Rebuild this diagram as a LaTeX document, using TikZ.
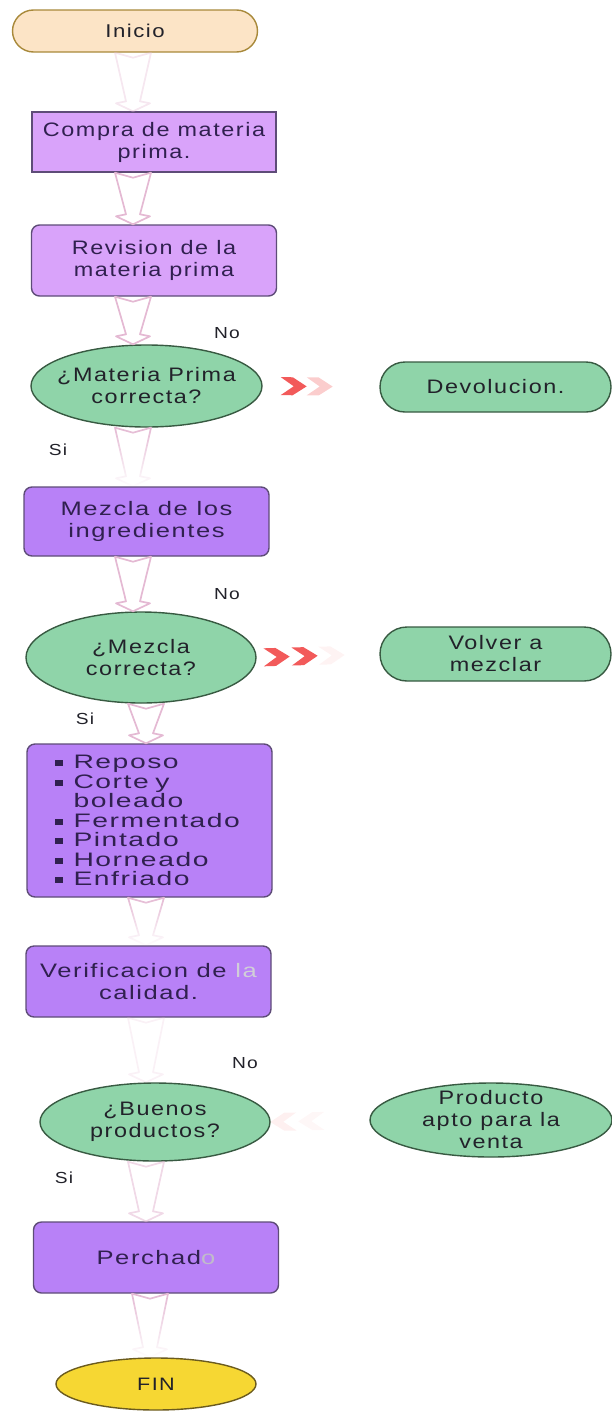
\documentclass[tikz,border=0pt]{standalone}
\usepackage{fontspec}
\setmainfont{Liberation Sans}[FakeStretch=1.2, LetterSpace=8]
\newfontfamily\widefont{Liberation Sans}[FakeStretch=1.31, LetterSpace=8]
\newfontfamily\listfont{Liberation Sans}[FakeStretch=1.45, LetterSpace=8]
\usetikzlibrary{shapes.geometric, shapes.misc, calc, decorations.markings, fadings}

\definecolor{peach}{HTML}{FCE4C6}
\definecolor{peachline}{HTML}{A8893A}
\definecolor{lilac}{HTML}{D9A3FA}
\definecolor{violetbox}{HTML}{B881F7}
\definecolor{boxline}{HTML}{5E4C78}
\definecolor{mint}{HTML}{8FD4A9}
\definecolor{mintline}{HTML}{385A42}
\definecolor{sun}{HTML}{F6D733}
\definecolor{sunline}{HTML}{6B5B1E}
\definecolor{flow}{HTML}{E4B9D3}
\definecolor{chev}{HTML}{F25A5A}
\definecolor{ink}{HTML}{22222A}
\definecolor{inkv}{HTML}{30204F}

\tikzfading[name=fade down, top color=transparent!0, bottom color=transparent!100]
\tikzfading[name=fade quick, top color=transparent!0, middle color=transparent!92, bottom color=transparent!100]

% thick red chevron, pointing along the local x axis
\newcommand\chevronmark[1]{\fill[#1] (0pt,-9pt) -- (12pt,-9pt) -- (26pt,0pt) -- (12pt,9pt) -- (0pt,9pt) -- (13pt,0pt) -- cycle;}
% small square bullet for the process list
\newcommand\lbul{\raisebox{2.5pt}{\rule{8pt}{6pt}}\hspace{11pt}}

\begin{document}
\begin{tikzpicture}[x=1pt, y=-1pt,
  txt/.style={inner sep=0pt, align=center, font=\fontsize{19.5}{22}\selectfont, text=ink},
  base/.style={inner sep=0pt, align=center, font=\fontsize{19.5}{22}\selectfont, line width=1.4pt},
  terminal/.style={base, rounded rectangle, text=ink},
  procbox/.style={base, rectangle, rounded corners=8pt, draw=boxline, fill=violetbox, text=inkv,
    minimum width=245, minimum height=71, font=\widefont\fontsize{19.5}{22}\selectfont},
  lightbox/.style={procbox, fill=lilac, font=\fontsize{19.5}{22}\selectfont},
  decision/.style={base, ellipse, draw=mintline, fill=mint},
  outcome/.style={terminal, draw=mintline, fill=mint, minimum width=231},
  branch/.style={inner sep=0pt, font=\fontsize{16}{18}\selectfont, text=ink},
  flowarrow/.style={draw=flow, line width=1.7pt, line join=round,
    to path={let \p1=(\tikztostart), \p2=(\tikztotarget) in
      (\x1-18pt,\y1) -- (\x1,\y1-5pt) -- (\x1+18pt,\y1) -- (\x1+7pt,\y2+10pt)
      -- (\x1+17pt,\y2+8pt) -- (\x1,\y2) -- (\x1-17pt,\y2+8pt) -- (\x1-7pt,\y2+10pt) -- cycle}},
]
\useasboundingbox (0,0) rectangle (612,1411);

% ---------- nodes ----------
\node[terminal, draw=peachline, fill=peach, minimum width=245, minimum height=42,
  font=\fontsize{18.5}{22}\selectfont] (ini) at (135,31) {Inicio};
\node[lightbox, rounded corners=0pt, minimum width=244, minimum height=60] (compra) at (154,142) {Compra de materia\\prima.};
\node[lightbox] (rev) at (154,260.5) {Revision de la\\materia prima};

\node[decision, minimum width=231, minimum height=82,
  label={[txt]center:{¿Materia Prima\\correcta?}}] (d1) at (146.5,386) {};
\node[outcome, minimum height=50] (dev) at (495.5,387) {Devolucion.};

\node[procbox, minimum height=69] (mez) at (146.5,521.5) {Mezcla de los\\ingredientes};

\node[decision, minimum width=230, minimum height=91,
  label={[txt]center:{¿Mezcla\\correcta?}}] (d2) at (141,657.5) {};
\node[outcome, minimum height=54] (vol) at (495.5,654) {Volver a\\mezclar};

\node[procbox, minimum height=153, align=left, text width=190,
  font=\listfont\fontsize{19.5}{19.5}\selectfont] (list) at (149.5,820.5)
  {\lbul Reposo\\\lbul Corte y\\\hphantom{\lbul}boleado\\\lbul Fermentado\\\lbul Pintado\\\lbul Horneado\\\lbul Enfriado};

\node[procbox] (ver) at (148.5,981.5) {Verificacion de \textcolor{inkv!22}{la}\\calidad.};

\node[decision, minimum width=230, minimum height=78,
  label={[txt]center:{¿Buenos\\productos?}}] (d3) at (155,1122) {};
\node[decision, minimum width=242, minimum height=74,
  label={[txt]center:{Producto\\apto para la\\venta}}] (prod) at (491,1120) {};

\node[procbox] (per) at (156,1257.5) {Perchad\textcolor{inkv!30}{o}};

\node[base, ellipse, draw=sunline, fill=sun, text=ink, minimum width=200, minimum height=52,
  font=\fontsize{18}{20}\selectfont] (fin) at (156,1384) {FIN};

% ---------- branch labels ----------
\node[branch] (no1) at (227,333) {No};
\node[branch] (si1) at (58,450) {Si};
\node[branch] (no2) at (227,594) {No};
\node[branch] (si2) at (85,719) {Si};
\node[branch] (no3) at (245,1063) {No};
\node[branch] (si3) at (64,1178) {Si};

% ---------- vertical flow arrows ----------
\coordinate (colA) at (133,0);
\coordinate (colB) at (146,0);
\coordinate (colC) at (150,0);

\draw[flowarrow, opacity=0.35] (ini.south -| colA) to (compra.north -| colA);
\draw[flowarrow] (compra.south -| colA) to (rev.north -| colA);
\draw[flowarrow] (rev.south -| colA) to (d1.north -| colA);
\draw[flowarrow, path fading=fade quick] (d1.south -| colA) to (mez.north -| colA);
\draw[flowarrow] (mez.south -| colA) to (d2.north -| colA);
\draw[flowarrow] (d2.south -| colB) to (list.north -| colB);
\draw[flowarrow, path fading=fade down] (list.south -| colB) to (ver.north -| colB);
\draw[flowarrow, opacity=0.2] (ver.south -| colB) to (d3.north -| colB);
\draw[flowarrow, opacity=0.55] (d3.south -| colB) to (per.north -| colB);
\draw[flowarrow, path fading=fade down] (per.south -| colC) to (fin.north -| colC);

% ---------- "No" branches: red chevron arrows ----------
\path[decorate, decoration={markings,
    mark=at position 18pt with {\chevronmark{chev}},
    mark=at position 44pt with {\chevronmark{chev, opacity=0.3}}}]
  (d1.east) -- (dev.west);
\path[decorate, decoration={markings,
    mark=at position 7pt with {\chevronmark{chev}},
    mark=at position 35pt with {\chevronmark{chev}},
    mark=at position 62pt with {\chevronmark{chev, opacity=0.07}}}]
  (d2.east) -- (vol.west);
\path[decorate, decoration={markings,
    mark=at position 45pt with {\chevronmark{chev, opacity=0.05}},
    mark=at position 73pt with {\chevronmark{chev, opacity=0.09}}}]
  (prod.west) -- (d3.east);
\end{tikzpicture}
\end{document}
